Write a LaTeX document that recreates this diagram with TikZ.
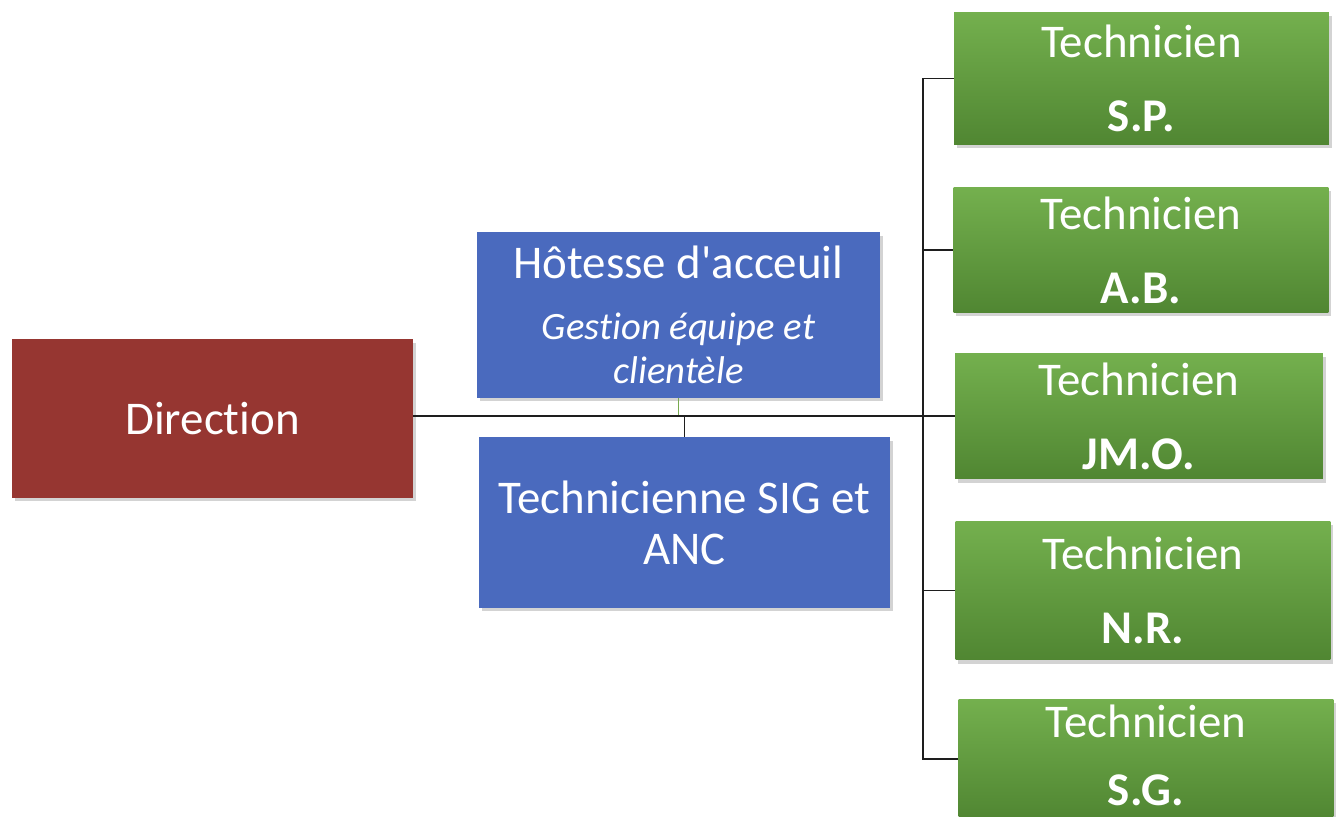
\documentclass[tikz,border=0pt]{standalone}
\usepackage{fontspec}
\setmainfont[Ligatures={NoCommon}]{Carlito}
\usetikzlibrary{shadows}

\definecolor{dirred}{RGB}{150,54,49}
\definecolor{staffblue}{RGB}{74,106,190}
\definecolor{techtop}{RGB}{116,176,78}
\definecolor{techbot}{RGB}{80,134,50}
\definecolor{linkgreen}{RGB}{120,170,80}
\definecolor{wire}{RGB}{30,30,30}

\tikzset{
  box/.style={rectangle, inner sep=0pt, align=center, text=white,
    font=\fontsize{26.7}{32}\selectfont,
    drop shadow={opacity=0.35, shadow xshift=1.5pt, shadow yshift=-2pt}},
  headbox/.style={box, fill=dirred},
  staffbox/.style={box, fill=staffblue},
  techbox/.style={box, top color=techtop, bottom color=techbot,
    minimum width=7.5cm},
  boxlabel/.style={inner sep=0pt, align=center, text=white,
    font=\fontsize{26.7}{32}\selectfont},
  wireline/.style={draw=wire, line width=1pt}
}

\newcommand{\techlabel}[2][10pt]{Technicien\\[#1]\textbf{#2}}
\newcommand{\subline}[1]{{\fontsize{22}{23}\selectfont\itshape #1}}

\begin{document}
\begin{tikzpicture}[x=0.02cm, y=-0.02cm]
  \useasboundingbox (0,0) rectangle (1343,817);
  \begin{scope}
  \clip (0,0) rectangle (1343,817);

  % head of the service
  \node[headbox, minimum width=8.02cm, minimum height=3.18cm] (dir) at (212.5,418.5) {Direction};

  % central staff
  \node[staffbox, minimum width=8.06cm, minimum height=3.32cm] (hote) at (678.5,315)
    {Hôtesse d\textquotesingle acceuil\\[3pt]\subline{Gestion équipe et}\\[-7pt]\subline{clientèle}};
  \node[staffbox, minimum width=8.22cm, minimum height=3.42cm] (sig) at (684.5,522.5)
    {Technicienne SIG et\\[-3pt]ANC};

  % field technicians
  \node[techbox, minimum height=2.66cm] (t1) at (1141.5,78.5) {\techlabel{S.P.}};
  \node[techbox, minimum height=2.52cm] (t2) at (1141,250) {\techlabel{A.B.}};
  \node[techbox, minimum width=7.36cm, minimum height=2.52cm] (t3) at (1139,416) {\techlabel{JM.O.}};
  \node[techbox, minimum height=2.78cm] (t4) at (1143,590.5) {\techlabel{N.R.}};
  % the last box runs past the lower edge; its label sits on its own baseline
  \node[techbox, minimum height=2.40cm] (t5) at (1146,759) {};
  \end{scope}
  \node[boxlabel, text depth=0pt, anchor=south] (t5lab) at (1146,806) {\techlabel[7pt]{S.G.}};

  \coordinate (bus) at (923,416);

  % links
  \draw[linkgreen, line width=0.8pt] (hote.south) -- (hote.south |- t3.west);
  \draw[wireline] (dir.east |- t3.west) -- (t3.west);
  \draw[wireline] (sig.north) -- (sig.north |- t3.west);
  \draw[wireline] (t1.west) -- (t1.west -| bus) -- (t5.west -| bus) -- (t5.west);
  \draw[wireline] (t2.west -| bus) -- (t2.west);
  \draw[wireline] (t4.west -| bus) -- (t4.west);
\end{tikzpicture}
\end{document}
